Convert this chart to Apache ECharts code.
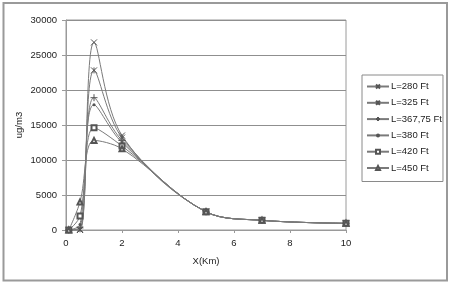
<!DOCTYPE html>
<html><head><meta charset="utf-8">
<script src="https://cdn.jsdelivr.net/npm/echarts@6/dist/echarts.min.js"></script>
<style>html,body{margin:0;padding:0;background:#fff}#c{width:450px;height:284px}</style>
</head><body><div id="c"></div>
<script>
var xValues = [0.1, 0.5, 1, 2, 5, 7, 10];
var seriesNames = ['L=280 Ft', 'L=325 Ft', 'L=367,75 Ft', 'L=380 Ft', 'L=420 Ft', 'L=450 Ft'];
var s280 = [0, 0, 26800, 13500, 2600, 1380, 950];
var s325 = [0, 100, 22800, 13200, 2600, 1380, 950];
var s367 = [0, 300, 18900, 12800, 2600, 1380, 950];
var s380 = [0, 800, 17900, 12500, 2600, 1380, 950];
var s420 = [0, 2000, 14600, 12000, 2600, 1380, 950];
var s450 = [0, 4000, 12800, 11600, 2600, 1380, 950];
var yTicks = [0, 5000, 10000, 15000, 20000, 25000, 30000];
var xTicks = [0, 2, 4, 6, 8, 10];

var allValues = [s280, s325, s367, s380, s420, s450];
var symbols = [
  'path://M0,0L10,10M10,0L0,10',
  'path://M0,0L10,10M10,0L0,10M5,0L5,10',
  'path://M5,0L5,10M0,5L10,5',
  'circle',
  'emptyRect',
  'emptyTriangle'
];
var sizes = [6, 6, 7, 3, 5, 5];
var lineColor = '#7a7a7a';
var markColor = '#555';

var series = seriesNames.map(function (n, i) {
  var path = symbols[i].indexOf('path://') === 0;
  return {
    name: n,
    type: 'line',
    smooth: 0.35,
    data: xValues.map(function (x, j) { return [x, allValues[i][j]]; }),
    symbol: symbols[i],
    symbolSize: sizes[i],
    showAllSymbol: true,
    lineStyle: { color: lineColor, width: 1 },
    itemStyle: path ? { color: markColor, borderColor: markColor, borderWidth: 1 } : { color: markColor, borderWidth: 1 },
    emphasis: { disabled: true }
  };
});

var chart = echarts.init(document.getElementById('c'), null, { renderer: 'canvas' });
chart.setOption({
  animation: false,
  backgroundColor: '#fff',
  textStyle: { fontFamily: 'Liberation Sans, Arial, sans-serif' },
  graphic: [{
    type: 'rect', shape: { x: 3.5, y: 3, width: 443.5, height: 277.5 },
    style: { fill: null, stroke: '#9a9a9a', lineWidth: 2 }, silent: true
  }],
  grid: { left: 66, right: 104, top: 20, bottom: 54, show: true, borderColor: '#9a9a9a', borderWidth: 1,
          containLabel: false, outerBoundsMode: 'none' },
  legend: {
    orient: 'vertical', left: 362, top: 75,
    data: seriesNames,
    itemWidth: 22, itemHeight: 5, itemGap: 5.3,
    borderColor: '#8a8a8a', borderWidth: 1,
    padding: [6, 1, 8, 4],
    textStyle: { fontSize: 9.5, color: '#222', lineHeight: 11, padding: [0, 0, 0, -3] }
  },
  xAxis: {
    type: 'value', min: 0, max: 10, interval: 2,
    name: 'X(Km)', nameLocation: 'middle', nameGap: 26, nameMoveOverlap: false,
    nameTextStyle: { fontSize: 9.5, color: '#222' },
    axisLine: { show: true, lineStyle: { color: '#9a9a9a' } },
    axisTick: { show: true, length: 3, lineStyle: { color: '#9a9a9a' } },
    axisLabel: { fontSize: 9.5, color: '#222', margin: 8 },
    splitLine: { show: false }
  },
  yAxis: {
    type: 'value', min: 0, max: 30000, interval: 5000,
    name: 'ug/m3', nameLocation: 'middle', nameGap: 42, nameRotate: 90, nameMoveOverlap: false,
    nameTextStyle: { fontSize: 9.5, color: '#222' },
    axisLine: { show: true, lineStyle: { color: '#9a9a9a' } },
    axisTick: { show: true, length: 4, lineStyle: { color: '#9a9a9a' } },
    axisLabel: { fontSize: 9.5, color: '#222', margin: 9, formatter: function (v) { return String(v); } },
    splitLine: { show: true, lineStyle: { color: '#8f8f8f', width: 1 } }
  },
  series: series
});
</script></body></html>
